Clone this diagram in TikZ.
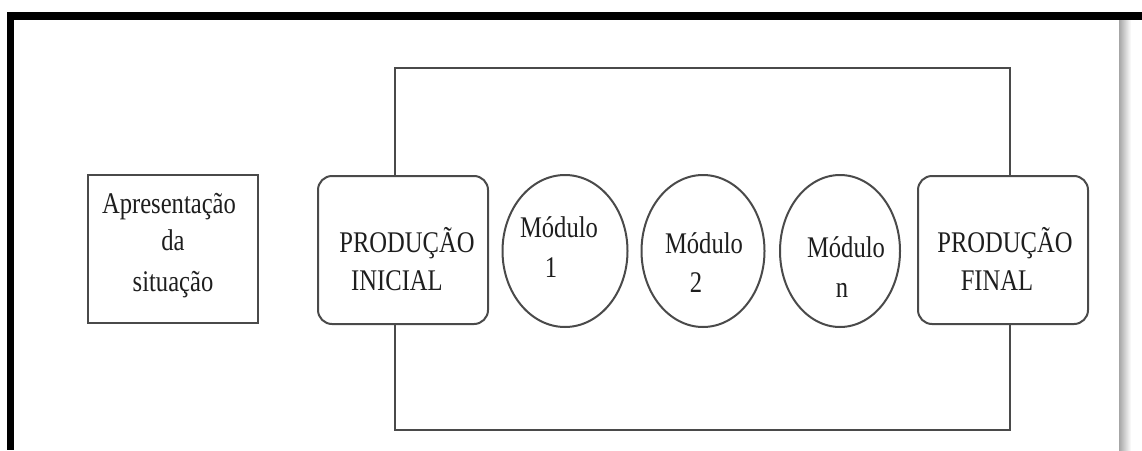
\documentclass[tikz,border=0pt]{standalone}
\usepackage{fontspec}
\usetikzlibrary{shapes.geometric}
\setmainfont{Liberation Serif}[FakeStretch=0.82]
\definecolor{lineg}{HTML}{4A4A4A}
\definecolor{txt}{HTML}{1E1E1E}
\begin{document}
\begin{tikzpicture}[x=1pt,y=-1pt,
  boxsq/.style={draw=lineg,line width=2pt,minimum width=170pt,minimum height=148pt,inner sep=0pt},
  boxrd/.style={boxsq,rounded corners=14pt},
  modell/.style={draw=lineg,line width=2pt,ellipse,inner sep=0pt,minimum height=152pt},
  lbl/.style={anchor=base,inner sep=0pt,text=txt,font=\fontsize{30}{36}\selectfont},
  conn/.style={draw=lineg,line width=2pt}]
\useasboundingbox (0,0) rectangle (1142,450);
\fill[white] (0,0) rectangle (1142,450);
% outer frame
\fill[black] (7,12) rectangle (1142,20);
\fill[black] (7,12) rectangle (14,450);
\shade[left color=black!35,right color=white] (1119,20) rectangle (1131,450);
% boxes
\node[boxsq] (ap) at (173,249) {};
\node[boxrd] (pi) at (403,250) {};
\node[boxrd] (pf) at (1003,250) {};
\node[modell,minimum width=125pt] (m1) at (565,251) {};
\node[modell,minimum width=123pt] (m2) at (703,251) {};
\node[modell,minimum width=120pt] (mn) at (840,251) {};
% texts
\node[lbl] (ap1) at (169,213) {Apresentação};
\node[lbl] (ap2) at (173,250) {da};
\node[lbl] (ap3) at (173,291) {situação};
\node[lbl] (pi1) at (407,252) {PRODUÇÃO};
\node[lbl] (pi2) at (397,290) {INICIAL};
\node[lbl] (pf1) at (1005,252) {PRODUÇÃO};
\node[lbl] (pf2) at (997,290) {FINAL};
\node[lbl] (m1a) at (559,237) {Módulo};
\node[lbl] (m1b) at (551,277) {1};
\node[lbl] (m2a) at (704,253) {Módulo};
\node[lbl] (m2b) at (696,292) {2};
\node[lbl] (mna) at (846,257) {Módulo};
\node[lbl] (mnb) at (842,297) {n};
% big loop
\coordinate (tl) at (395,68);
\coordinate (tr) at (1010,68);
\coordinate (bl) at (395,430);
\coordinate (br) at (1010,430);
\draw[conn] (pi.north -| tl) -- (tl) -- (tr) -- (pf.north -| tr);
\draw[conn] (pi.south -| bl) -- (bl) -- (br) -- (pf.south -| br);
\end{tikzpicture}
\end{document}
